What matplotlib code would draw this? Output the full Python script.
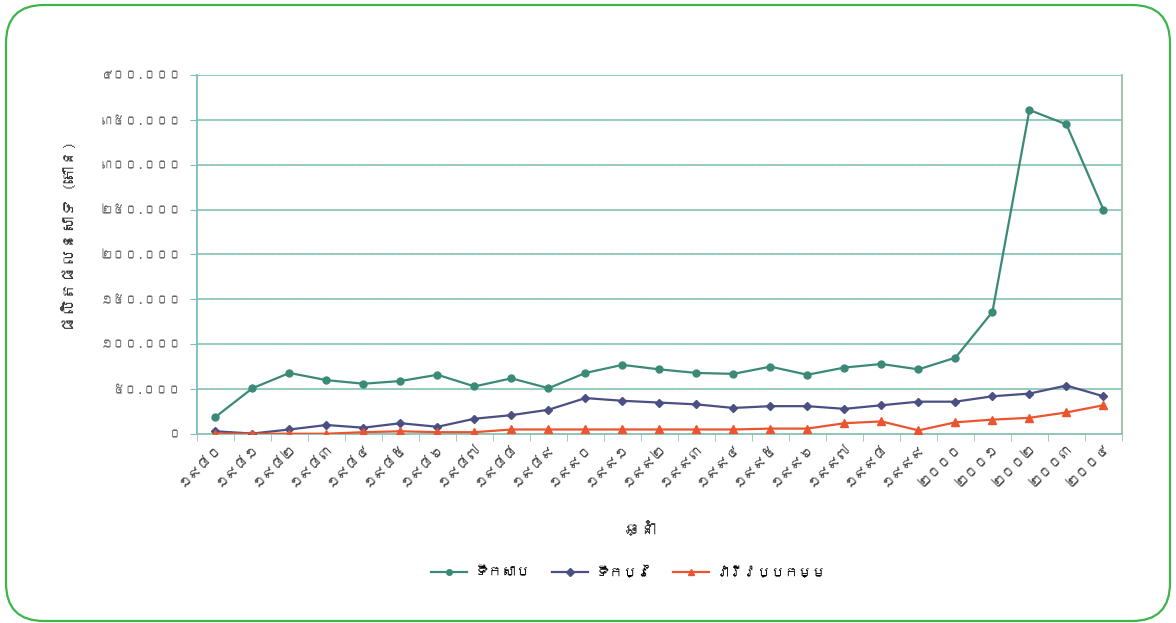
import matplotlib
matplotlib.use("Agg")
import matplotlib.pyplot as plt
from matplotlib import font_manager as fm
from matplotlib.ft2font import FT2Font
from matplotlib.patches import FancyBboxPatch
import numpy as np

# ---- find a font with Khmer glyphs if any ----
khmer_font = None
for f in fm.fontManager.ttflist:
    try:
        ft = FT2Font(f.fname)
        if ft.get_char_index(0x1780):
            khmer_font = f.name
            break
    except Exception:
        pass
families = ([khmer_font] if khmer_font else []) + ['DejaVu Sans']
plt.rcParams['font.family'] = families

# ---- data ----
years = list(range(1980, 2005))
khmer_digits = str.maketrans("0123456789", "០១២៣៤៥៦៧៨៩")
year_labels = [str(y).translate(khmer_digits) for y in years]

freshwater = [19000, 51000, 68000, 60000, 56000, 59000, 66000, 53000, 62000, 51000,
              68000, 77000, 72000, 68000, 67000, 75000, 66000, 74000, 78000, 72000,
              85000, 136000, 361000, 345000, 250000]
marine = [3000, 500, 5000, 10000, 7000, 12000, 8000, 17000, 21000, 27000,
          40000, 37000, 35000, 33000, 29000, 31000, 31000, 28000, 32000, 36000,
          36000, 42000, 45000, 54000, 42000]
aquaculture = [500, 300, 300, 300, 2000, 3000, 2000, 2000, 5000, 5000,
               5000, 5000, 5000, 5000, 5000, 6000, 6000, 12000, 14000, 4000,
               13000, 16000, 18000, 24000, 32000]

series_names = ["ទឹកសាប", "ទឹកប្រៃ", "វារីវប្បកម្ម"]
y_ticks = [0, 50000, 100000, 150000, 200000, 250000, 300000, 350000, 400000]
y_tick_labels = ["០", "៥០.០០០", "១០០.០០០", "១៥០.០០០", "២០០.០០០",
                 "២៥០.០០០", "៣០០.០០០", "៣៥០.០០០", "៤០០.០០០"]
x_title = "ឆ្នាំ"
y_title = "ផលិតផលនេសាទ (តោន)"

# ---- figure ----
fig = plt.figure(figsize=(11.76, 6.23), dpi=100)
ax = fig.add_axes([0.1675, 0.3034, 0.7865, 0.5762])

x = np.arange(len(years))
ax.plot(x, freshwater, color='#3b8a77', lw=1.6, marker='o', ms=5, label=series_names[0], zorder=5)
ax.plot(x, marine, color='#4b4f82', lw=1.6, marker='D', ms=4.5, label=series_names[1], zorder=5)
ax.plot(x, aquaculture, color='#ea5530', lw=1.6, marker='^', ms=6, label=series_names[2], zorder=5)

ax.set_xlim(-0.5, len(years) - 0.5)
ax.set_ylim(0, 400000)
ax.set_yticks(y_ticks)
ax.set_yticklabels(y_tick_labels, fontsize=9, color='#666666')

ax.set_xticks(x)
ax.set_xticklabels(year_labels, rotation=45, ha='right', va='top',
                   rotation_mode='anchor', fontsize=10, color='#444444')
ax.set_xticks(np.arange(-0.5, len(years)), minor=True)
ax.tick_params(axis='x', which='major', length=0, pad=6)
ax.tick_params(axis='x', which='minor', length=5, color='#8cc3b6', direction='out')
ax.tick_params(axis='y', length=5, color='#7cbcbc', direction='out', pad=6)

ax.yaxis.grid(True, color='#9cc4b0', lw=1.3)
ax.set_axisbelow(True)
for t in y_ticks[1:]:
    ax.axhline(t, color='#7fd3d3', lw=0.8, ls=(0, (3, 3)), zorder=1)

ax.spines['top'].set_visible(False)
ax.spines['left'].set_color('#7cbcbc')
ax.spines['bottom'].set_color('#8cc3b6')
ax.spines['right'].set_color('#9cbfa6')
for s in ['left', 'bottom', 'right']:
    ax.spines[s].set_linewidth(1.3)

ax.set_xlabel(x_title, fontsize=12, color='#333333')
ax.xaxis.set_label_coords(0.48, -0.245)
ax.set_ylabel(y_title, fontsize=12, color='#333333')
ax.yaxis.set_label_coords(-0.13, 0.55)

fig.legend(loc='center', bbox_to_anchor=(0.535, 0.082), ncol=3, frameon=False,
           fontsize=10, handlelength=2.6, handletextpad=0.5, columnspacing=1.6,
           markerscale=0.8)

# rounded green border
border = FancyBboxPatch((0.06, 0.02), 11.64, 6.16,
                        boxstyle="round,pad=0,rounding_size=0.38",
                        transform=fig.dpi_scale_trans, fill=False,
                        edgecolor='#3cb54a', lw=1.6)
fig.patches.append(border)

fig.savefig("out.png", dpi=100)
